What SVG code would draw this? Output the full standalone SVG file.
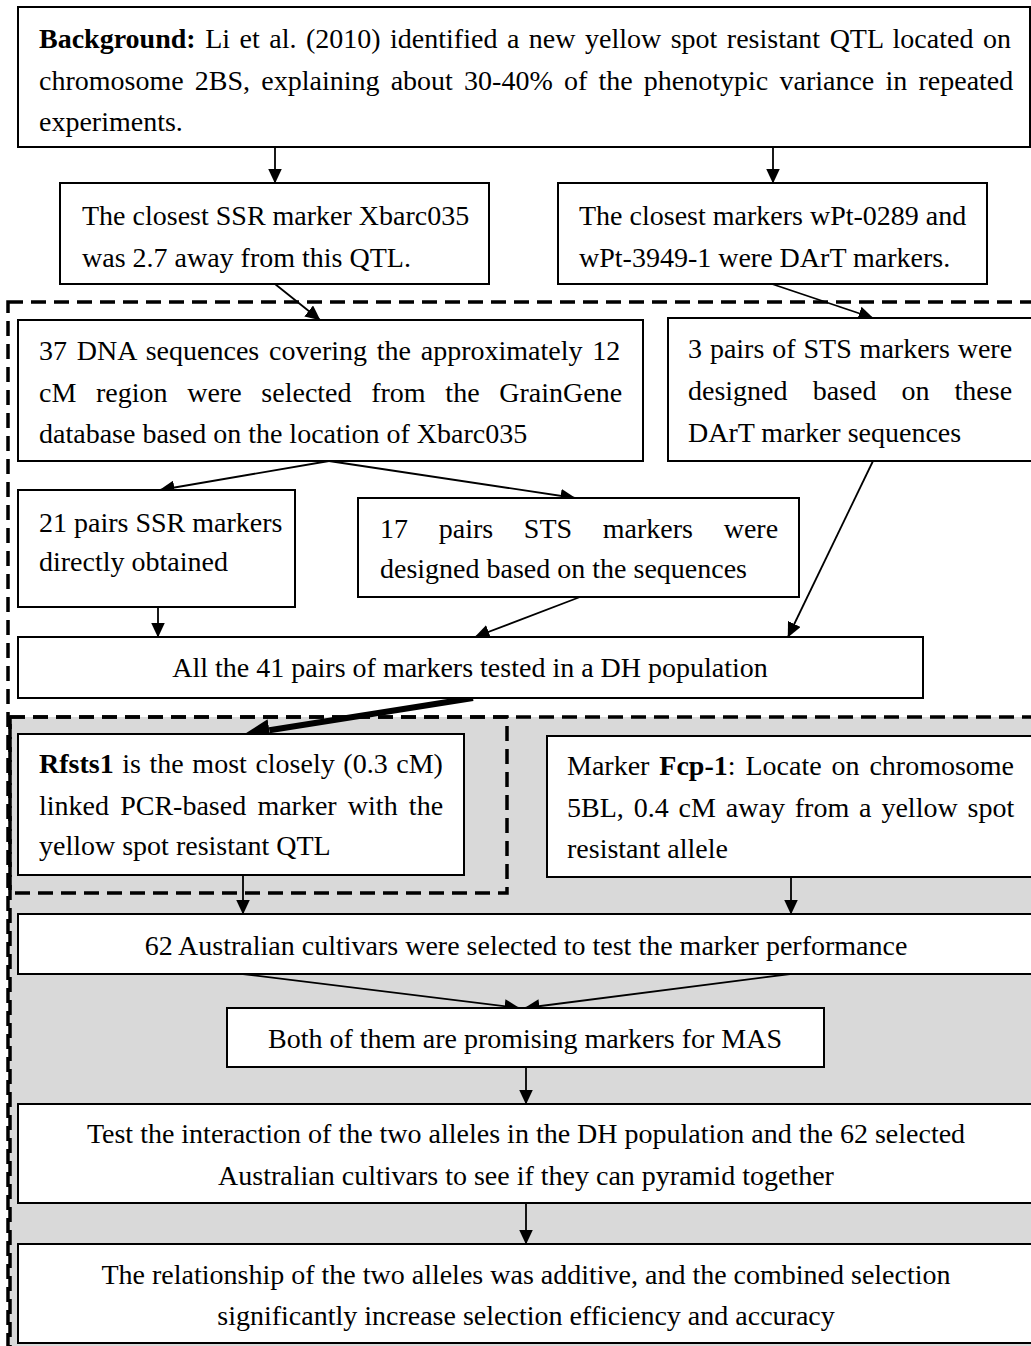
<svg xmlns="http://www.w3.org/2000/svg" width="1031" height="1346" viewBox="0 0 1031 1346">
<defs>
<style>
.box{fill:#fff;stroke:#000;stroke-width:2}
.t{font-family:"Liberation Serif","Times New Roman",serif;font-size:28px;fill:#000}
.c{text-anchor:middle}
.b{font-weight:bold}
.conn line{stroke:#000;stroke-width:1.8;fill:none}
.dash{fill:none;stroke:#000;stroke-width:3.5;stroke-dasharray:15 8}
</style>
<marker id="ah" markerUnits="userSpaceOnUse" markerWidth="16" markerHeight="14" refX="14.5" refY="7" orient="auto">
<path d="M0,0 L15,7 L0,14 Z" fill="#000"/>
</marker>
<marker id="ahb" markerUnits="userSpaceOnUse" markerWidth="25" markerHeight="22" refX="0" refY="11" orient="auto">
<path d="M0,0 L25,11 L0,22 Z" fill="#000"/>
</marker>
</defs>
<rect width="1031" height="1346" fill="#fff"/>
<g id="regions">
<rect x="10" y="717" width="1040" height="650" fill="#d9d9d9"/>
<rect class="dash" x="8" y="302" width="1040" height="1070"/>
<rect class="dash" x="10" y="717" width="1040" height="650"/>
<rect class="dash" x="10" y="717" width="497" height="176"/>
</g>
<g id="connectors" class="conn">
<line x1="275" y1="147" x2="275" y2="183" marker-end="url(#ah)"/>
<line x1="773" y1="147" x2="773" y2="183" marker-end="url(#ah)"/>
<line x1="275" y1="284" x2="320" y2="320" marker-end="url(#ah)"/>
<line x1="772" y1="284" x2="873" y2="318" marker-end="url(#ah)"/>
<line x1="329" y1="461" x2="160" y2="490" marker-end="url(#ah)"/>
<line x1="329" y1="461" x2="575" y2="498" marker-end="url(#ah)"/>
<line x1="158" y1="607" x2="158" y2="637" marker-end="url(#ah)"/>
<line x1="580" y1="597" x2="475" y2="637" marker-end="url(#ah)"/>
<line x1="873" y1="461" x2="788" y2="637" marker-end="url(#ah)"/>
<line x1="473" y1="698" x2="269.3" y2="730.2" style="stroke-width:6" marker-end="url(#ahb)"/>
<line x1="243" y1="875" x2="243" y2="914" marker-end="url(#ah)"/>
<line x1="791" y1="877" x2="791" y2="914" marker-end="url(#ah)"/>
<line x1="243" y1="974" x2="519" y2="1008" marker-end="url(#ah)"/>
<line x1="790" y1="974" x2="525" y2="1008" marker-end="url(#ah)"/>
<line x1="526" y1="1067" x2="526" y2="1104" marker-end="url(#ah)"/>
<line x1="526" y1="1203" x2="526" y2="1244" marker-end="url(#ah)"/>
</g>
<g id="n0">
<rect class="box" x="18" y="7" width="1012" height="140"/>
<text class="t" x="39" y="48" word-spacing="2.5"><tspan class="b">Background:</tspan> Li et al. (2010) identified a new yellow spot resistant QTL located on</text>
<text class="t" x="39" y="90" word-spacing="4.2">chromosome 2BS, explaining about 30-40% of the phenotypic variance in repeated</text>
<text class="t" x="39" y="131">experiments.</text>
</g>
<g id="n1">
<rect class="box" x="60" y="183" width="429" height="101"/>
<text class="t" x="82" y="225">The closest SSR marker Xbarc035</text>
<text class="t" x="82" y="267">was 2.7 away from this QTL.</text>
</g>
<g id="n2">
<rect class="box" x="558" y="183" width="429" height="101"/>
<text class="t" x="579" y="225">The closest markers wPt-0289 and</text>
<text class="t" x="579" y="267">wPt-3949-1 were DArT markers.</text>
</g>
<g id="n3">
<rect class="box" x="18" y="320" width="625" height="141"/>
<text class="t" x="39" y="360" word-spacing="2.8">37 DNA sequences covering the approximately 12</text>
<text class="t" x="39" y="402" word-spacing="12.7">cM region were selected from the GrainGene</text>
<text class="t" x="39" y="443">database based on the location of Xbarc035</text>
</g>
<g id="n4">
<rect class="box" x="668" y="318" width="370" height="143"/>
<text class="t" x="688" y="358" word-spacing="0.9">3 pairs of STS markers were</text>
<text class="t" x="688" y="400" word-spacing="18.1">designed based on these</text>
<text class="t" x="688" y="442">DArT marker sequences</text>
</g>
<g id="n5">
<rect class="box" x="18" y="490" width="277" height="117"/>
<text class="t" x="39" y="532">21 pairs SSR markers</text>
<text class="t" x="39" y="571">directly obtained</text>
</g>
<g id="n6">
<rect class="box" x="358" y="498" width="441" height="99"/>
<text class="t" x="380" y="538" word-spacing="23.7">17 pairs STS markers were</text>
<text class="t" x="380" y="578">designed based on the sequences</text>
</g>
<g id="n7">
<rect class="box" x="18" y="637" width="905" height="61"/>
<text class="t c" x="470" y="677">All the 41 pairs of markers tested in a DH population</text>
</g>
<g id="n8">
<rect class="box" x="18" y="734" width="446" height="141"/>
<text class="t" x="39" y="773" word-spacing="1.6"><tspan class="b">Rfsts1</tspan> is the most closely (0.3 cM)</text>
<text class="t" x="39" y="815" word-spacing="4.2">linked PCR-based marker with the</text>
<text class="t" x="39" y="855">yellow spot resistant QTL</text>
</g>
<g id="n9">
<rect class="box" x="547" y="736" width="490" height="141"/>
<text class="t" x="567" y="775" word-spacing="2.9">Marker <tspan class="b">Fcp-1</tspan>: Locate on chromosome</text>
<text class="t" x="567" y="817" word-spacing="2.9">5BL, 0.4 cM away from a yellow spot</text>
<text class="t" x="567" y="858">resistant allele</text>
</g>
<g id="n10">
<rect class="box" x="18" y="914" width="1020" height="60"/>
<text class="t c" x="526" y="955">62 Australian cultivars were selected to test the marker performance</text>
</g>
<g id="n11">
<rect class="box" x="227" y="1008" width="597" height="59"/>
<text class="t c" x="525" y="1048">Both of them are promising markers for MAS</text>
</g>
<g id="n12">
<rect class="box" x="18" y="1104" width="1020" height="99"/>
<text class="t c" x="526" y="1143">Test the interaction of the two alleles in the DH population and the 62 selected</text>
<text class="t c" x="526" y="1185">Australian cultivars to see if they can pyramid together</text>
</g>
<g id="n13">
<rect class="box" x="18" y="1244" width="1020" height="99"/>
<text class="t c" x="526" y="1284">The relationship of the two alleles was additive, and the combined selection</text>
<text class="t c" x="526" y="1325">significantly increase selection efficiency and accuracy</text>
</g>
</svg>
